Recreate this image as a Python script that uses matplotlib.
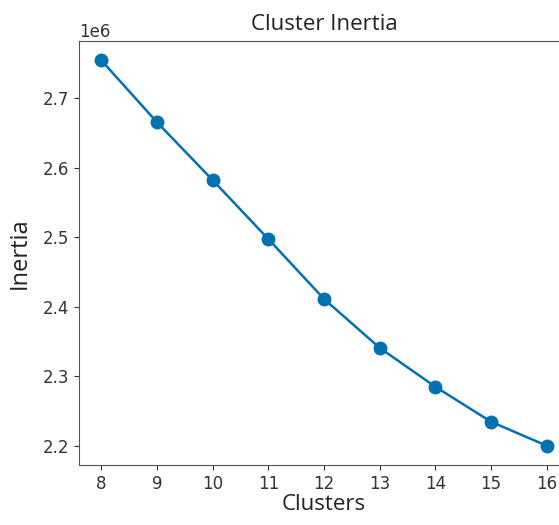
import matplotlib
matplotlib.use("Agg")
import matplotlib.pyplot as plt

clusters = [8, 9, 10, 11, 12, 13, 14, 15, 16]
inertia = [2.7546e6, 2.6655e6, 2.5822e6, 2.4974e6, 2.4112e6, 2.3408e6, 2.2848e6, 2.2345e6, 2.2000e6]

fig = plt.figure(figsize=(5.59, 5.25), dpi=100)
ax = fig.add_axes([79/559, 1 - 465/525, 490/559, 424/525])
ax.plot(clusters, inertia, marker='o', color='#0072B2', linewidth=1.8, markersize=9)
ax.set_xticks(clusters)
ax.set_title('Cluster Inertia', fontsize=16, family='Open Sans', color='#222222', pad=8)
ax.set_xlabel('Clusters', fontsize=16, family='Open Sans', color='#222222', labelpad=1)
ax.set_ylabel('Inertia', fontsize=17, family='Open Sans', color='#222222', labelpad=8)
ax.tick_params(labelsize=12, colors='#333333')
for s in ax.spines.values():
    s.set_color('#555555')
ax.yaxis.get_offset_text().set_fontsize(12)
fig.savefig('out.png', dpi=100)
